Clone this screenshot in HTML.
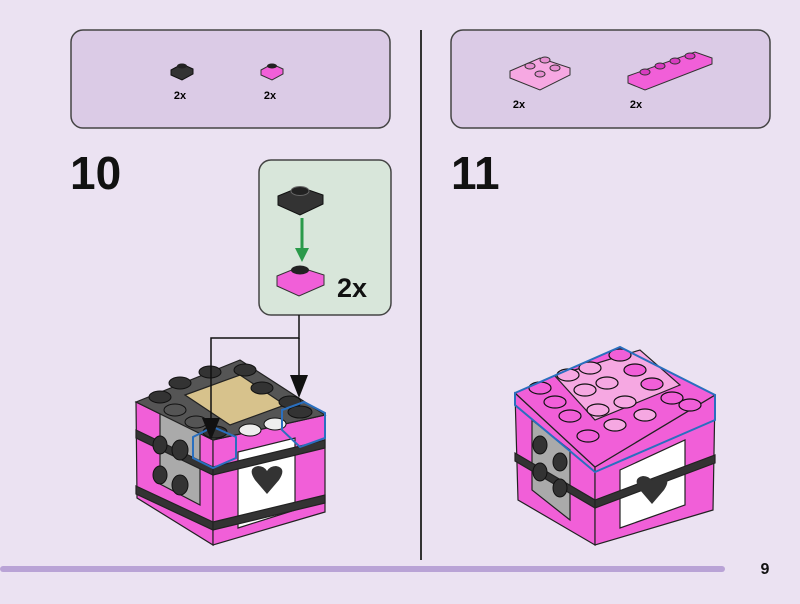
<!DOCTYPE html>
<html><head><meta charset="utf-8"><style>
html,body{margin:0;padding:0;background:#ebe2f2;}
body{width:800px;height:604px;overflow:hidden;position:relative;font-family:"Liberation Sans",sans-serif;}
</style></head><body>
<svg width="800" height="604" viewBox="0 0 800 604" xmlns="http://www.w3.org/2000/svg" style="position:absolute;left:0;top:0">
<rect width="800" height="604" fill="#ebe2f2"/>
<line x1="421" y1="30" x2="421" y2="560" stroke="#333" stroke-width="2"/>
<rect x="0" y="566" width="725" height="6" rx="3" fill="#b9a3d6"/>
<text x="765" y="574" font-size="16" font-weight="bold" text-anchor="middle" fill="#111">9</text>

<rect x="71" y="30" width="319" height="98" rx="12" fill="#dbcbe6" stroke="#444" stroke-width="1.5"/>
<rect x="451" y="30" width="319" height="98" rx="12" fill="#dbcbe6" stroke="#444" stroke-width="1.5"/>

<g>
<polygon points="171,70 182,64 193,69 193,74 182,80 171,75" fill="#333" stroke="#111"/>
<ellipse cx="182" cy="66" rx="5" ry="2.5" fill="#222"/>
<text x="180" y="99" font-size="11" font-weight="bold" text-anchor="middle">2x</text>
<polygon points="261,70 272,64 283,69 283,74 272,80 261,75" fill="#f15fd8" stroke="#333"/>
<ellipse cx="272" cy="66" rx="5" ry="2.5" fill="#222"/>
<text x="270" y="99" font-size="11" font-weight="bold" text-anchor="middle">2x</text>
</g>
<g>
<polygon points="510,71 540,58 570,68 570,75 540,90 510,78" fill="#f6a8e2" stroke="#333"/>
<ellipse cx="530" cy="66" rx="5" ry="3" fill="#e58fd0" stroke="#333"/>
<ellipse cx="545" cy="60" rx="5" ry="3" fill="#e58fd0" stroke="#333"/>
<ellipse cx="540" cy="74" rx="5" ry="3" fill="#e58fd0" stroke="#333"/>
<ellipse cx="555" cy="68" rx="5" ry="3" fill="#e58fd0" stroke="#333"/>
<text x="519" y="108" font-size="11" font-weight="bold" text-anchor="middle">2x</text>
<polygon points="628,76 695,52 712,58 712,64 645,90 628,83" fill="#f15fd8" stroke="#333"/>
<ellipse cx="645" cy="72" rx="5" ry="3" fill="#d83cc0" stroke="#333"/>
<ellipse cx="660" cy="66" rx="5" ry="3" fill="#d83cc0" stroke="#333"/>
<ellipse cx="675" cy="61" rx="5" ry="3" fill="#d83cc0" stroke="#333"/>
<ellipse cx="690" cy="56" rx="5" ry="3" fill="#d83cc0" stroke="#333"/>
<text x="636" y="108" font-size="11" font-weight="bold" text-anchor="middle">2x</text>
</g>

<text x="70" y="189" font-size="46" font-weight="bold" fill="#111">10</text>
<text x="451" y="189" font-size="46" font-weight="bold" fill="#111">11</text>

<rect x="259" y="160" width="132" height="155" rx="12" fill="#d8e6da" stroke="#444" stroke-width="1.5"/>
<polygon points="278,196 300,187 323,195 323,204 300,215 278,205" fill="#333" stroke="#111"/>
<ellipse cx="300" cy="191" rx="9" ry="4.5" fill="#222" stroke="#666"/>
<line x1="302" y1="218" x2="302" y2="250" stroke="#2a9a4a" stroke-width="3"/>
<polygon points="295,248 309,248 302,262" fill="#2a9a4a"/>
<polygon points="277,276 299,267 324,275 324,285 299,296 277,286" fill="#f15fd8" stroke="#333"/>
<ellipse cx="300" cy="270" rx="9" ry="4.5" fill="#222"/>
<text x="337" y="297" font-size="27" font-weight="bold" fill="#111">2x</text>

<!-- BOX 10 -->
<g stroke="#222" stroke-width="1.2">
<polygon points="136,402 213,440 213,545 137,498" fill="#f15fd8"/>
<polygon points="213,440 325,415 325,512 213,545" fill="#f15fd8"/>
<polygon points="160,413 200,433 200,505 160,484" fill="#aaa"/>
<polygon points="238,452 295,438 295,510 238,528" fill="#fff"/>
<polygon points="136,430 213,467 213,475 136,438" fill="#333"/>
<polygon points="136,486 213,522 213,530 136,494" fill="#333"/>
<polygon points="213,467 325,440 325,448 213,475" fill="#333"/>
<polygon points="213,522 325,495 325,503 213,530" fill="#333"/>
<polygon points="136,402 240,360 325,415 213,440" fill="#555"/>
<polygon points="185,395 240,375 285,405 230,425" fill="#d7c28c"/>
</g>
<g fill="#333" stroke="#111">
<ellipse cx="180" cy="383" rx="11" ry="6"/><ellipse cx="210" cy="372" rx="11" ry="6"/>
<ellipse cx="160" cy="397" rx="11" ry="6"/><ellipse cx="245" cy="370" rx="11" ry="6"/>
<ellipse cx="262" cy="388" rx="11" ry="6"/><ellipse cx="290" cy="402" rx="11" ry="6"/>
<ellipse cx="175" cy="410" rx="11" ry="6" fill="#555"/>
<ellipse cx="196" cy="422" rx="11" ry="6" fill="#555"/>
<ellipse cx="215" cy="432" rx="12" ry="6"/>
<ellipse cx="300" cy="412" rx="12" ry="6"/>
<ellipse cx="250" cy="430" rx="11" ry="6" fill="#eee"/>
<ellipse cx="275" cy="424" rx="11" ry="6" fill="#eee"/>
<ellipse cx="180" cy="450" rx="8" ry="10"/><ellipse cx="180" cy="485" rx="8" ry="10"/>
<ellipse cx="160" cy="445" rx="7" ry="9"/><ellipse cx="160" cy="475" rx="7" ry="9"/>
</g>
<path d="M255 480 q-8 -12 3 -14 q6 0 9 5 q3 -5 9 -5 q11 2 3 14 l-12 14 z" fill="#333"/>
<polygon points="193,437 213,427 236,437 236,458 213,468 193,458" fill="none" stroke="#2a6fbf" stroke-width="2"/>
<polygon points="282,410 304,402 325,413 325,438 300,447 282,430" fill="none" stroke="#2a6fbf" stroke-width="2"/>

<!-- connectors on top -->
<polyline points="299,315 299,338 211,338 211,425" fill="none" stroke="#111" stroke-width="1.5"/>
<line x1="299" y1="338" x2="299" y2="380" stroke="#111" stroke-width="1.5"/>
<polygon points="202,418 220,418 211,440" fill="#111"/>
<polygon points="290,375 308,375 299,398" fill="#111"/>

<!-- BOX 11 -->
<g stroke="#222" stroke-width="1.2">
<polygon points="515,393 595,467 595,545 518,500" fill="#f15fd8"/>
<polygon points="595,467 715,395 713,510 595,545" fill="#f15fd8"/>
<polygon points="532,420 570,450 570,520 532,490" fill="#aaa"/>
<polygon points="620,470 685,440 685,505 620,528" fill="#fff"/>
<polygon points="515,453 595,500 595,508 515,461" fill="#333"/>
<polygon points="595,500 715,455 715,463 595,508" fill="#333"/>
<polygon points="515,393 620,347 715,395 595,467" fill="#f15fd8"/>
<polygon points="555,376 640,350 680,385 595,420" fill="#f6a8e2"/>
</g>
<g fill="#f15fd8" stroke="#111" stroke-width="1.2">
<ellipse cx="540" cy="388" rx="11" ry="6"/><ellipse cx="555" cy="402" rx="11" ry="6"/>
<ellipse cx="570" cy="416" rx="11" ry="6"/><ellipse cx="588" cy="436" rx="11" ry="6"/>
<ellipse cx="620" cy="355" rx="11" ry="6"/><ellipse cx="635" cy="370" rx="11" ry="6"/>
<ellipse cx="652" cy="384" rx="11" ry="6"/><ellipse cx="672" cy="398" rx="11" ry="6"/>
<ellipse cx="690" cy="405" rx="11" ry="6"/>
<ellipse cx="568" cy="375" rx="11" ry="6" fill="#f6a8e2"/><ellipse cx="590" cy="368" rx="11" ry="6" fill="#f6a8e2"/>
<ellipse cx="585" cy="390" rx="11" ry="6" fill="#f6a8e2"/><ellipse cx="607" cy="383" rx="11" ry="6" fill="#f6a8e2"/>
<ellipse cx="598" cy="410" rx="11" ry="6" fill="#f6a8e2"/><ellipse cx="625" cy="402" rx="11" ry="6" fill="#f6a8e2"/>
<ellipse cx="615" cy="425" rx="11" ry="6" fill="#f6a8e2"/><ellipse cx="645" cy="415" rx="11" ry="6" fill="#f6a8e2"/>
</g>
<g fill="#333" stroke="#111">
<ellipse cx="540" cy="445" rx="7" ry="9"/><ellipse cx="560" cy="462" rx="7" ry="9"/>
<ellipse cx="540" cy="472" rx="7" ry="9"/><ellipse cx="560" cy="488" rx="7" ry="9"/>
</g>
<path d="M640 490 q-8 -12 3 -14 q6 0 9 5 q3 -5 9 -5 q11 2 3 14 l-12 14 z" fill="#333"/>
<polygon points="515,393 620,347 715,395 715,420 595,472 515,405" fill="none" stroke="#2a6fbf" stroke-width="2"/>
</svg>
</body></html>
